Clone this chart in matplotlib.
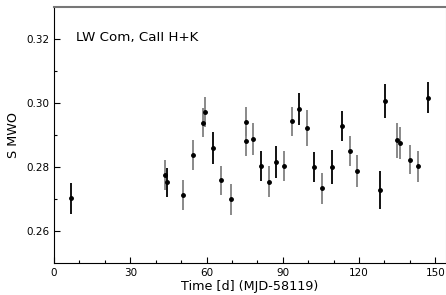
import matplotlib
matplotlib.use('Agg')
import matplotlib.pyplot as plt
import numpy as np

# Time since MJD 58119 [d], S-index (MWO) and its error
time_d = [6.6, 43.5, 44.5, 50.6, 54.5, 58.5, 59.5, 62.4, 65.5, 69.5,
          75.4, 75.4, 78.4, 81.4, 84.4, 87.3, 90.3, 93.5, 96.3, 99.4,
          102.2, 105.3, 109.2, 113.3, 116.3, 119.3, 128.2, 130.3, 135.1, 136.2,
          140.2, 143.1, 147.1]
s_mwo = [0.2703, 0.2775, 0.2753, 0.2713, 0.2838, 0.2938, 0.2971, 0.2860, 0.2759, 0.2699,
         0.2942, 0.2881, 0.2888, 0.2803, 0.2755, 0.2817, 0.2804, 0.2943, 0.2980, 0.2921,
         0.2800, 0.2734, 0.2799, 0.2928, 0.2850, 0.2788, 0.2728, 0.3006, 0.2884, 0.2875,
         0.2823, 0.2802, 0.3017]
s_err = [0.0048, 0.0047, 0.0045, 0.0047, 0.0048, 0.0045, 0.0047, 0.0050, 0.0045, 0.0048,
         0.0045, 0.0045, 0.0050, 0.0047, 0.0047, 0.0050, 0.0047, 0.0045, 0.0050, 0.0056,
         0.0047, 0.0049, 0.0053, 0.0048, 0.0047, 0.0049, 0.0059, 0.0053, 0.0055, 0.0050,
         0.0045, 0.0047, 0.0047]
# error bar drawn dark (True) or grey (False)
dark_bar = [True, False, True, False, False, False, False, True, False, False,
            False, False, False, True, False, True, False, False, True, False,
            True, False, True, True, False, False, True, True, False, False,
            False, False, True]

t = np.array(time_d)
s = np.array(s_mwo)
e = np.array(s_err)
dark = np.array(dark_bar)

fig = plt.figure(figsize=(4.46, 2.95), dpi=100)
ax = fig.add_axes([0.1211, 0.1075, 0.8778, 0.8695])

for mask, col in [(~dark, '#808080'), (dark, 'black')]:
    ax.errorbar(t[mask], s[mask], yerr=e[mask], fmt='none', ecolor=col,
                elinewidth=1.3, capsize=0)
ax.plot(t, s, 'o', color='black', markersize=2.5, zorder=3)

ax.set_xlim(0, 154)
ax.set_ylim(0.25, 0.33)
ax.set_xticks([0, 30, 60, 90, 120, 150])
ax.set_xticks(np.arange(0, 154, 10), minor=True)
ax.set_yticks([0.26, 0.28, 0.30, 0.32])
ax.set_yticks([0.27, 0.29, 0.31], minor=True)
ax.tick_params(which='both', direction='in', labelsize=7.5, top=False, right=False)
ax.tick_params(which='major', length=4, width=0.8)
ax.tick_params(which='minor', length=2, width=0.8)

ax.set_xlabel('Time [d] (MJD-58119)', fontsize=9.2, labelpad=1)
ax.set_ylabel('S MWO', fontsize=9.2, labelpad=4)

ax.text(0.055, 0.88, 'LW Com, CaII H+K', transform=ax.transAxes, fontsize=9.6,
        va='center', ha='left')

ax.spines['top'].set_color('#777777')
ax.spines['top'].set_linewidth(1.5)
ax.spines['right'].set_color('#aaaaaa')
ax.spines['right'].set_linewidth(0.8)

fig.savefig('out.png', dpi=100)
